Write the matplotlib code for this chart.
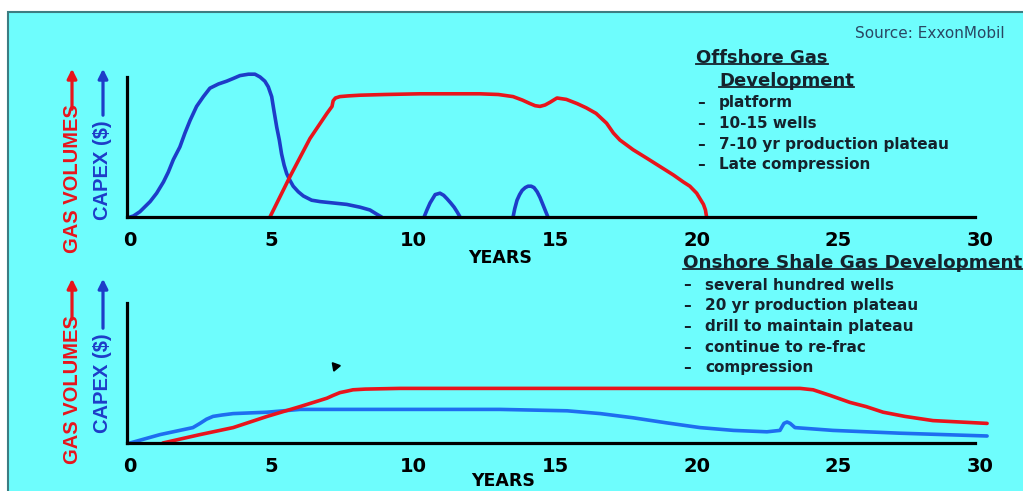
import matplotlib
matplotlib.use("Agg")
import matplotlib.pyplot as plt
from matplotlib.patches import Rectangle, FancyArrowPatch
from matplotlib.lines import Line2D

W, H = 1023, 491

# ---- data (years, relative level) ----
off_capex_x = [0, 0.12, 0.35, 0.71, 0.94, 1.18, 1.35, 1.53, 1.76, 1.94, 2.12, 2.35, 2.59,
               2.82, 3.12, 3.41, 3.65, 3.88, 4.18, 4.41, 4.59, 4.76, 4.88, 5.0, 5.08,
               5.18, 5.27, 5.35, 5.44, 5.53, 5.65, 5.76, 5.94, 6.12, 6.41, 6.71, 7.18,
               7.65, 8.12, 8.47, 8.71, 8.88]
off_capex_y = [0, 0.007, 0.038, 0.11, 0.17, 0.25, 0.32, 0.41, 0.50, 0.60, 0.69, 0.79, 0.86,
               0.92, 0.95, 0.97, 0.99, 1.01, 1.02, 1.02, 1.0, 0.97, 0.93, 0.86, 0.76,
               0.64, 0.55, 0.45, 0.37, 0.31, 0.26, 0.22, 0.18, 0.15, 0.12, 0.11, 0.10,
               0.09, 0.07, 0.05, 0.02, 0]
bump1_x = [10.38, 10.48, 10.59, 10.77, 10.94, 11.07, 11.19, 11.32, 11.44, 11.55, 11.65]
bump1_y = [0, 0.05, 0.10, 0.16, 0.17, 0.155, 0.13, 0.10, 0.07, 0.035, 0]
bump2_x = [13.52, 13.58, 13.66, 13.75, 13.84, 13.95, 14.05, 14.16, 14.26, 14.37, 14.47,
           14.57, 14.65, 14.75]
bump2_y = [0, 0.06, 0.12, 0.16, 0.19, 0.21, 0.22, 0.22, 0.21, 0.18, 0.14, 0.09, 0.05, 0]
off_gas_x = [4.94, 5.65, 6.35, 6.95, 7.13, 7.17, 7.25, 7.41, 7.7, 8.12, 9.0, 10.24, 11.3,
             12.35, 13.0, 13.52, 13.85, 14.12, 14.3, 14.47, 14.65, 14.83, 15.07, 15.4,
             15.78, 16.1, 16.45, 16.82, 17.06, 17.29, 17.76, 18.24, 18.71, 19.18, 19.53,
             19.76, 20.0, 20.12, 20.24, 20.31, 20.35]
off_gas_y = [0, 0.29, 0.56, 0.74, 0.79, 0.83, 0.85, 0.86, 0.865, 0.87, 0.875, 0.88, 0.88,
             0.88, 0.875, 0.86, 0.835, 0.81, 0.795, 0.79, 0.80, 0.82, 0.85, 0.84,
             0.81, 0.78, 0.74, 0.67, 0.60, 0.55, 0.48, 0.42, 0.36, 0.30, 0.25,
             0.22, 0.17, 0.13, 0.09, 0.05, 0]

on_capex_x = [0, 1.06, 2.22, 2.47, 2.7, 2.93, 3.25, 3.64, 4.84, 6.0, 9.53, 13.06, 15.43,
              16.6, 17.76, 18.9, 20.12, 21.3, 22.48, 22.94, 23.08, 23.19, 23.3, 23.47,
              24.81, 27.18, 30.25]
on_capex_y = [0, 0.06, 0.11, 0.14, 0.17, 0.19, 0.20, 0.21, 0.22, 0.24, 0.24, 0.24, 0.23,
              0.21, 0.18, 0.145, 0.11, 0.09, 0.08, 0.09, 0.14, 0.15, 0.14, 0.11,
              0.09, 0.07, 0.05]
on_gas_x = [1.16, 2.47, 3.64, 4.84, 6.0, 6.95, 7.17, 7.41, 7.65, 7.87, 8.3, 9.53, 13.06,
            18.96, 23.65, 24.11, 24.71, 25.41, 25.98, 26.58, 27.35, 28.34, 29.29, 30.25]
on_gas_y = [0, 0.06, 0.11, 0.19, 0.26, 0.32, 0.34, 0.36, 0.37, 0.38, 0.385, 0.39, 0.39,
            0.39, 0.39, 0.38, 0.34, 0.29, 0.26, 0.22, 0.19, 0.16, 0.15, 0.14]

years = [0, 5, 10, 15, 20, 25, 30]

off_title = ["Offshore Gas", "Development"]
off_items = ["platform", "10-15 wells", "7-10 yr production plateau", "Late compression"]
on_title = "Onshore Shale Gas Development"
on_items = ["several hundred wells", "20 yr production plateau", "drill to maintain plateau",
            "continue to re-frac", "compression"]

RED = "#e8141c"
BLUE_D = "#1e3cc8"
BLUE_L = "#1e6ef0"
CYAN = "#6efdfd"
TXT = "#15222c"


def fx(x):
    return x / W


def fy(y):
    return 1 - y / H


fig = plt.figure(figsize=(W / 100, H / 100), dpi=100)
fig.patch.set_facecolor("white")
fig.add_artist(Rectangle((fx(8), -0.1), 1.2, fy(12) + 0.1, transform=fig.transFigure,
                         facecolor=CYAN, edgecolor="#3d7d82", linewidth=1.5, zorder=-5))

XLO, XHI = -0.11, 30.4
S = 850 / 30.0  # px per year
left_px = 130 + XLO * S
width_px = (XHI - XLO) * S


def make_axes(base_px):
    ax = fig.add_axes([fx(left_px), fy(base_px), width_px / W, 147 / H])
    ax.set_xlim(XLO, XHI)
    ax.set_ylim(0, 1.05)
    ax.patch.set_alpha(0)
    for s in ["top", "right"]:
        ax.spines[s].set_visible(False)
    for s in ["left", "bottom"]:
        ax.spines[s].set_linewidth(2.3)
        ax.spines[s].set_color("black")
        ax.spines[s].set_capstyle("projecting")
    ax.spines["left"].set_bounds(0, 1)
    ax.spines["bottom"].set_bounds(XLO, 29.83)
    ax.set_yticks([])
    ax.set_xticks(years)
    ax.set_xticklabels([str(v) for v in years], fontsize=14, fontweight="bold")
    ax.tick_params(axis="x", length=0, pad=10)
    return ax


ax1 = make_axes(217)
ax2 = make_axes(443)

lw = 2.6
style = dict(lw=lw, clip_on=False, solid_capstyle="round", solid_joinstyle="round")
ax1.plot(off_capex_x, off_capex_y, color=BLUE_D, **style)
ax1.plot(bump1_x, bump1_y, color=BLUE_D, **style)
ax1.plot(bump2_x, bump2_y, color=BLUE_D, **style)
ax1.plot(off_gas_x, off_gas_y, color=RED, **style)

ax2.plot(on_capex_x, on_capex_y, color=BLUE_L, **style)
ax2.plot(on_gas_x, on_gas_y, color=RED, **style)
ax2.plot([7.24], [0.55], marker=(3, 0, 40), color="black", markersize=7)

ax1.text(13.06, -0.293, "YEARS", ha="center", va="center", fontsize=12.5, fontweight="bold")
ax2.text(13.17, -0.271, "YEARS", ha="center", va="center", fontsize=12.5, fontweight="bold")

# y axis labels with arrows
lab_font = dict(family=["Liberation Sans", "DejaVu Sans"], fontsize=14.5, fontweight="bold",
                rotation=90, ha="center", va="center")
for (gx, gy, gtop, cx, cy, ctop, atop, cblue) in [
        (72, 179, 112, 103, 170, 118, 66, BLUE_D),
        (72, 390, 322, 103, 383, 331, 276, BLUE_D)]:
    fig.text(fx(gx), fy(gy), "GAS VOLUMES", color=RED, **lab_font)
    fig.text(fx(cx), fy(cy), "CAPEX ($)", color=cblue, **lab_font)
    fig.add_artist(FancyArrowPatch(
        (fx(gx), fy(gtop)), (fx(gx), fy(atop)), transform=fig.transFigure,
        arrowstyle="-|>", mutation_scale=14, lw=2.3, color=RED))
    fig.add_artist(FancyArrowPatch(
        (fx(cx), fy(ctop)), (fx(cx), fy(atop)), transform=fig.transFigure,
        arrowstyle="-|>", mutation_scale=14, lw=2.3, color=cblue))

fig.text(fx(1005), fy(33), "Source: ExxonMobil", ha="right", va="center", fontsize=11,
         color="#2a4763")

heads = []
heads.append(fig.text(fx(696), fy(58), off_title[0], ha="left", va="center", fontsize=13,
                      fontweight="bold", color=TXT))
heads.append(fig.text(fx(719), fy(81), off_title[1], ha="left", va="center", fontsize=13,
                      fontweight="bold", color=TXT))
for i, item in enumerate(off_items):
    yy = 103 + i * 20.5
    fig.text(fx(697), fy(yy), "–", ha="left", va="center", fontsize=11, fontweight="bold", color=TXT)
    fig.text(fx(719), fy(yy), item, ha="left", va="center", fontsize=11, fontweight="bold", color=TXT)

heads.append(fig.text(fx(683), fy(263), on_title, ha="left", va="center", fontsize=13.2,
                      fontweight="bold", color=TXT))
for i, item in enumerate(on_items):
    yy = 285 + i * 20.7
    fig.text(fx(683), fy(yy), "–", ha="left", va="center", fontsize=11, fontweight="bold", color=TXT)
    fig.text(fx(705), fy(yy), item, ha="left", va="center", fontsize=11, fontweight="bold", color=TXT)

# underline headings
fig.canvas.draw()
r = fig.canvas.get_renderer()
inv = fig.transFigure.inverted()
for t in heads:
    bb = t.get_window_extent(r)
    (x0, y0), (x1, _) = inv.transform([(bb.x0, bb.y0 + 3), (bb.x1, bb.y0 + 3)])
    fig.add_artist(Line2D([x0, x1], [y0, y0], transform=fig.transFigure, color=TXT, lw=1.3))

fig.savefig("out.png", dpi=100)
